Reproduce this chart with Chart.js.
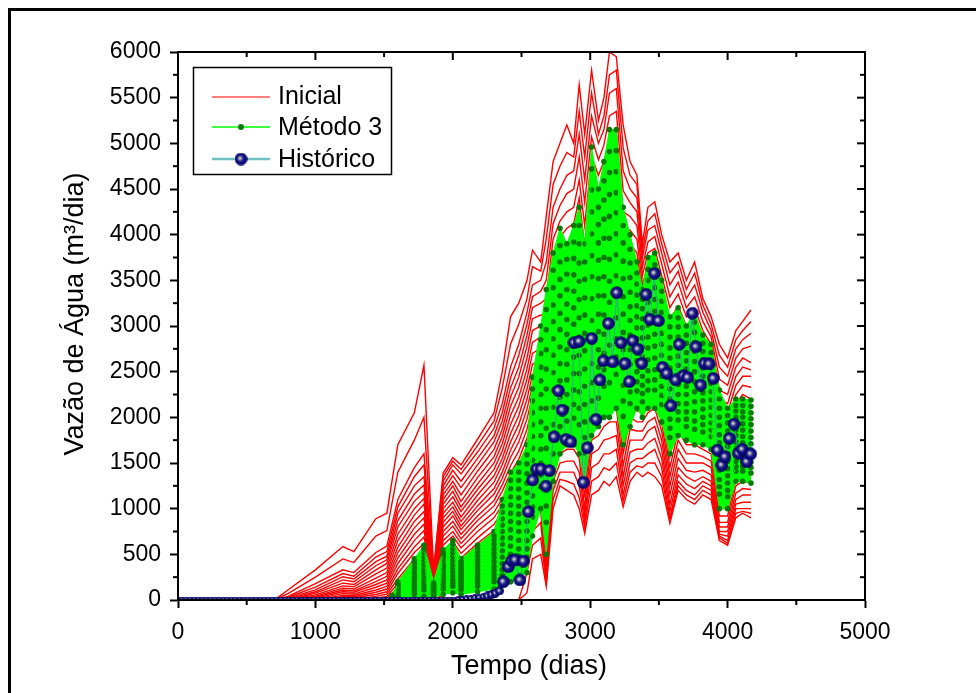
<!DOCTYPE html>
<html>
<head>
<meta charset="utf-8">
<title>Vazão de Água</title>
<script src="https://cdn.jsdelivr.net/npm/chart.js@4.4.1/dist/chart.umd.min.js"></script>
<style>
  html, body { margin: 0; padding: 0; background: #fff; overflow: hidden; }
  #grafico { display: block; }
</style>
</head>
<body>
<canvas id="grafico" width="976" height="693"></canvas>
<script>
// tempos (dias) das simulações
const tempoSim = [0, 700, 800, 1000, 1200, 1280, 1440, 1520, 1600, 1720,
  1790, 1860, 1930, 2000, 2060, 2180, 2300, 2360, 2420, 2480,
  2540, 2580, 2640, 2680, 2730, 2780, 2830, 2880, 2920, 2960,
  3010, 3060, 3100, 3140, 3190, 3240, 3290, 3340, 3380, 3420,
  3470, 3520, 3580, 3640, 3700, 3760, 3820, 3880, 3940, 4000,
  4060, 4110, 4170];

// curvas "Inicial" (m3/dia)
const inicial = [
  [0,0,110,330,585,530,890,950,1700,2050, 2570,330,1390,1560,1480,1760,2050,2500,3100,3250, 3500,3830,3700,4200,4800,5000,5200,5000,5640,5100, 5800,5250,5500,6000,5950,5200,4800,4650,3900,4300, 4360,4000,3700,3800,3500,3700,3300,3100,2800,2650, 2950,3050,3175],
  [0,0,70,250,450,410,700,760,1400,1750, 2000,300,1350,1520,1430,1690,1960,2320,2800,3020, 3300,3650,3600,3950,4550,4750,4900,4850,5350,4850, 5550,5100,5300,5750,5800,4950,4650,4550,3820,4150, 4230,3900,3580,3700,3400,3580,3230,3020,2680,2550, 2850,2950,3050],
  [0,0,40,180,330,300,520,590,1100,1450, 1600,280,1300,1480,1380,1620,1880,2150,2550,2800, 3150,3450,3500,3700,4300,4500,4650,4700,5100,4600, 5300,5000,5150,5550,5600,4700,4500,4400,3750,4050, 4100,3800,3450,3600,3300,3450,3150,2950,2550,2450, 2750,2850,2920],
  [0,0,30,140,290,260,470,530,1020,1350, 1480,265,1250,1420,1300,1550,1800,2050,2430,2680, 3020,3320,3380,3500,4120,4320,4450,4500,4850,4350, 5070,4820,4980,5300,5350,4480,4350,4250,3650,3920, 3980,3680,3320,3480,3200,3320,3050,2880,2420,2350, 2650,2750,2780],
  [0,0,20,110,255,230,420,480,950,1250, 1350,250,1200,1360,1230,1480,1730,1960,2320,2550, 2900,3200,3250,3300,3950,4150,4250,4300,4600,4100, 4850,4650,4800,5050,5100,4250,4200,4100,3550,3800, 3850,3550,3200,3350,3100,3200,2950,2800,2300,2250, 2550,2650,2600],
  [0,0,10,90,220,200,375,440,870,1160, 1260,240,1150,1300,1150,1410,1650,1870,2220,2440, 2780,3080,3120,3100,3770,3970,4070,4120,4400,3870, 4620,4470,4620,4820,4870,4050,4050,3950,3450,3670, 3720,3420,3070,3220,3000,3070,2850,2700,2200,2150, 2450,2550,2520],
  [0,0,0,75,185,170,330,400,800,1080, 1180,230,1100,1250,1080,1340,1570,1790,2120,2330, 2650,2950,3000,2900,3600,3800,3900,3950,4200,3650, 4400,4300,4450,4600,4650,3850,3900,3800,3350,3550, 3600,3300,2950,3100,2900,2950,2750,2600,2100,2050, 2350,2450,2450],
  [0,0,0,55,155,145,285,350,720,1000, 1110,220,1050,1190,1020,1270,1500,1710,2020,2220, 2530,2820,2880,2700,3420,3620,3720,3770,4000,3450, 4200,4120,4270,4400,4450,3650,3750,3650,3250,3420, 3470,3170,2820,2970,2800,2820,2650,2500,2000,1950, 2250,2350,2330],
  [0,0,0,40,130,120,240,300,650,930, 1050,210,1000,1130,970,1210,1430,1630,1920,2120, 2420,2700,2760,2500,3250,3450,3550,3600,3800,3250, 4000,3950,4100,4200,4250,3450,3600,3500,3150,3300, 3350,3050,2700,2850,2700,2700,2550,2400,1900,1850, 2150,2250,2200],
  [0,0,0,30,110,100,200,260,580,860, 970,200,950,1070,910,1150,1360,1550,1820,2020, 2310,2580,2640,2300,3100,3300,3400,3450,3620,3050, 3820,3770,3920,4020,4050,3270,3450,3350,3050,3170, 3220,2950,2570,2750,2600,2600,2450,2320,1800,1750, 2070,2170,2150],
  [0,0,0,20,90,85,170,220,520,790, 900,190,900,1020,860,1090,1290,1480,1730,1920, 2200,2470,2520,2100,2950,3150,3250,3300,3450,2850, 3650,3600,3750,3850,3850,3100,3300,3200,2950,3050, 3100,2850,2450,2650,2500,2500,2350,2250,1700,1650, 2000,2100,2110],
  [0,0,0,10,70,65,140,185,460,720, 830,180,850,970,810,1030,1220,1400,1640,1820, 2090,2350,2400,1900,2800,3000,3100,3150,3270,2670, 3470,3450,3570,3670,3670,2920,3150,3070,2850,2950, 3000,2750,2320,2550,2400,2400,2250,2150,1600,1550, 1920,2020,2020],
  [0,0,0,0,50,50,110,150,400,650, 760,170,800,920,770,980,1160,1330,1560,1730, 1980,2240,2290,1700,2650,2850,2950,3000,3100,2500, 3300,3300,3400,3500,3500,2750,3000,2950,2750,2850, 2900,2650,2200,2450,2300,2300,2150,2050,1500,1450, 1850,1950,1940],
  [0,0,0,0,35,35,85,120,340,580, 690,160,750,860,720,920,1090,1260,1470,1630, 1870,2120,2170,1520,2500,2700,2800,2850,2920,2320, 3120,3150,3250,3320,3320,2600,2870,2820,2650,2750, 2800,2550,2070,2350,2200,2200,2050,1970,1400,1370, 1770,1870,1860],
  [0,0,0,0,25,25,60,90,290,520, 620,150,700,810,670,870,1030,1190,1390,1540, 1770,2010,2060,1350,2350,2550,2650,2700,2750,2150, 2950,3000,3100,3150,3150,2450,2750,2700,2550,2650, 2700,2450,1950,2250,2100,2100,1950,1900,1300,1300, 1700,1800,1790],
  [0,0,0,0,10,10,40,65,230,450, 550,140,650,750,620,810,960,1110,1300,1440, 1660,1900,1940,1170,2220,2420,2520,2550,2600,2000, 2800,2850,2950,3000,3000,2300,2620,2570,2450,2550, 2600,2350,1820,2150,2000,2000,1870,1820,1220,1220, 1620,1700,1640],
  [0,0,0,0,0,0,20,40,180,380, 480,130,600,700,570,750,900,1040,1210,1350, 1560,1790,1830,1000,2100,2300,2400,2400,2450,1850, 2650,2700,2800,2850,2850,2150,2500,2450,2350,2450, 2500,2250,1700,2050,1900,1900,1800,1750,1150,1150, 1550,1600,1500],
  [0,0,0,0,0,0,10,25,130,310, 410,120,540,640,510,680,830,960,1120,1250, 1450,1670,1710,870,1970,2170,2270,2270,2300,1700, 2500,2550,2650,2700,2700,2000,2370,2320,2250,2350, 2400,2150,1570,1950,1800,1800,1720,1670,1070,1070, 1470,1520,1450],
  [0,0,0,0,0,0,0,15,90,240, 340,110,480,580,460,620,760,880,1030,1150, 1340,1560,1600,750,1850,2050,2150,2150,2150,1550, 2350,2400,2500,2550,2550,1850,2250,2200,2150,2250, 2300,2050,1450,1850,1700,1700,1650,1600,1000,1000, 1400,1450,1400],
  [0,0,0,0,0,0,0,5,60,180, 270,100,420,510,400,550,680,790,930,1040, 1220,1440,1470,620,1720,1920,2020,2020,2000,1400, 2200,2250,2350,2400,2400,1720,2120,2070,2050,2150, 2200,1950,1350,1750,1600,1600,1570,1520,920,920, 1320,1370,1340],
  [0,0,0,0,0,0,0,0,30,120, 200,90,360,450,350,490,610,710,830,930, 1100,1320,1350,500,1600,1800,1900,1900,1850,1250, 2050,2100,2200,2250,2250,1600,2000,1950,1950,2050, 2100,1850,1250,1650,1500,1500,1500,1450,850,850, 1250,1300,1280],
  [0,0,0,0,0,0,0,0,15,80, 140,75,300,380,290,420,530,620,720,810, 970,1190,1220,400,1500,1700,1770,1770,1700,1120, 1900,1950,2050,2100,2100,1470,1870,1850,1850,1950, 2000,1750,1150,1550,1420,1400,1420,1370,800,800, 1170,1220,1210],
  [0,0,0,0,0,0,0,0,0,40, 80,60,230,310,240,350,450,530,620,700, 850,1060,1100,300,1400,1600,1650,1650,1550,1000, 1750,1800,1900,1950,1950,1350,1750,1750,1750,1850, 1900,1650,1050,1450,1350,1300,1350,1300,750,750, 1100,1150,1150],
  [0,0,0,0,0,0,0,0,0,20, 40,30,150,210,170,260,350,420,490,560, 680,900,970,250,1300,1500,1520,1520,1400,920, 1600,1650,1750,1770,1800,1250,1620,1650,1650,1720, 1770,1550,970,1370,1270,1220,1300,1250,720,700, 1050,1070,1070],
  [0,0,0,0,0,0,0,0,0,0, 0,0,60,120,100,180,260,310,370,420, 520,750,850,200,1200,1400,1400,1400,1250,850, 1450,1500,1600,1600,1650,1150,1500,1550,1550,1600, 1650,1450,900,1300,1200,1150,1250,1200,700,650, 1000,1000,1000],
  [0,0,0,0,0,0,0,0,0,0, 0,0,0,0,0,0,0,0,0,0, 300,600,680,170,1100,1320,1300,1270,1120,790, 1300,1350,1450,1420,1500,1080,1400,1470,1450,1500, 1500,1350,870,1250,1150,1100,1200,1150,680,620, 950,970,950],
  [0,0,0,0,0,0,0,0,0,0, 0,0,0,0,0,0,0,0,0,0, 80,450,500,150,1000,1250,1200,1150,1000,730, 1150,1200,1300,1250,1350,1020,1300,1400,1350,1400, 1350,1250,840,1200,1100,1050,1150,1100,650,600, 900,950,900]
];

// tempos das curvas do Método 3
const tempoMetodo = [0, 1500, 1560, 1600, 1720, 1790, 1860, 1930, 2000, 2060,
  2180, 2300, 2360, 2420, 2480, 2540, 2580, 2640, 2680, 2730,
  2780, 2830, 2880, 2920, 2960, 3010, 3060, 3100, 3140, 3190,
  3240, 3290, 3340, 3380, 3420, 3470, 3520, 3580, 3640, 3700,
  3760, 3820, 3880, 3940, 4000, 4060, 4110, 4170];

// curvas "Método 3" (da maior para a menor)
const metodo3 = [
  [0,0,50,200,450,600,200,550,650,450, 600,750,1100,1400,1500,1700,2440,3000,3400,3800, 4070,3900,4100,4300,3900,4960,4500,4800,5150,5150, 4300,4000,3700,3400,3750,3800,3500,3100,3200,3000, 3150,2900,2800,2300,2100,2200,2200,2190],
  [0,0,45,185,420,560,185,515,610,420, 560,700,1030,1310,1400,1590,2310,2850,3180,3610, 3880,3730,3920,4100,3700,4720,4300,4590,4910,4920, 4100,3840,3580,3290,3620,3670,3380,2990,3090,2900, 3040,2810,2710,2200,2020,2130,2130,2120],
  [0,0,40,170,390,520,170,480,560,390, 520,660,960,1220,1310,1490,2180,2700,2960,3420, 3700,3570,3740,3900,3510,4490,4110,4380,4680,4690, 3910,3690,3460,3190,3500,3550,3270,2880,2990,2810, 2930,2720,2630,2100,1940,2070,2060,2050],
  [0,0,38,155,355,475,160,440,520,360, 485,610,890,1130,1215,1385,2050,2550,2740,3230, 3510,3400,3560,3690,3310,4250,3910,4170,4440,4460, 3710,3530,3340,3080,3380,3420,3150,2760,2880,2710, 2820,2630,2540,2000,1850,2000,2000,1985],
  [0,0,35,140,320,430,150,400,480,330, 450,560,820,1040,1120,1280,1920,2400,2530,3050, 3330,3240,3380,3490,3120,4010,3720,3960,4200,4240, 3520,3370,3220,2980,3260,3290,3040,2650,2780,2620, 2720,2540,2460,1910,1770,1930,1930,1920],
  [0,0,31,125,290,390,135,365,435,300, 410,515,750,950,1030,1175,1790,2250,2310,2860, 3140,3070,3200,3290,2920,3770,3520,3750,3960,4010, 3320,3210,3100,2870,3130,3160,2920,2540,2670,2530, 2610,2450,2370,1810,1680,1860,1860,1850],
  [0,0,27,110,260,350,120,330,390,270, 370,470,680,860,940,1070,1660,2100,2100,2680, 2960,2910,3020,3090,2730,3540,3330,3540,3730,3780, 3130,3060,2980,2770,3010,3040,2800,2430,2570,2440, 2500,2360,2280,1720,1600,1800,1790,1780],
  [0,0,23,95,225,305,110,295,350,245, 330,420,610,770,845,965,1530,1950,1880,2490, 2770,2740,2840,2880,2530,3300,3130,3330,3490,3550, 2930,2900,2860,2660,2880,2910,2680,2310,2460,2340, 2390,2270,2190,1620,1520,1730,1720,1710],
  [0,0,20,80,190,260,100,260,310,220, 290,370,540,680,750,860,1400,1800,1660,2300, 2590,2580,2660,2680,2340,3060,2940,3120,3260,3320, 2740,2740,2740,2560,2760,2780,2570,2200,2360,2250, 2280,2180,2110,1520,1440,1660,1660,1640],
  [0,0,16,65,160,220,85,220,265,190, 255,325,470,590,655,755,1270,1650,1440,2110, 2400,2410,2480,2480,2140,2820,2740,2910,3020,3090, 2540,2580,2620,2450,2630,2650,2450,2090,2250,2150, 2170,2090,2020,1420,1360,1590,1590,1570],
  [0,0,12,50,130,180,70,180,220,160, 220,280,400,500,560,650,1140,1500,1220,1920, 2220,2250,2300,2280,1950,2590,2550,2700,2790,2860, 2350,2420,2500,2350,2510,2520,2340,1980,2150,2060, 2060,2000,1940,1320,1280,1520,1520,1510],
  [0,0,9,37,100,145,60,150,185,135, 185,240,335,420,480,560,1020,1370,1030,1760, 2060,2100,2140,2100,1780,2380,2380,2520,2580,2660, 2180,2280,2390,2260,2400,2410,2240,1880,2060,1980, 1960,1920,1860,1240,1200,1460,1460,1450],
  [0,0,6,24,70,110,50,120,150,110, 150,200,270,340,400,470,910,1240,850,1600, 1900,1960,1990,1920,1610,2180,2210,2340,2380,2470, 2010,2150,2290,2170,2300,2300,2140,1780,1970,1900, 1870,1840,1790,1160,1130,1410,1410,1390],
  [0,0,0,0,20,40,30,60,80,60, 90,120,160,200,250,300,700,1000,500,1300, 1600,1700,1700,1600,1300,1800,1900,2000,2000,2100, 1700,1900,2100,2000,2100,2100,1950,1600,1800,1750, 1700,1700,1650,1000,1000,1300,1300,1280]
];

// histórico observado
const histTempo = [0,30,60,90,120,150,180,210,240,270, 300,330,360,390,420,450,480,510,540,570,
  600,630,660,690,720,750,780,810,840,870, 900,930,960,990,1020,1050,1080,1110,1140,1170,
  1200,1230,1260,1290,1320,1350,1380,1410,1440,1470, 1500,1530,1560,1590,1620,1650,1680,1710,1740,1770,
  1800,1830,1860,1890,1920,1950,1980,2010,
  2040,2070,2100,2130,2160,2190,2222,2252,2282,2310, 2339,2368,2404,2430,2453,2489,2514,2550,2581,2610,
  2642,2678,2703,2737,2768,2797,2824,2858,2882,2919, 2950,2979,3011,3042,3071,3096,3132,3164,3193,3224,
  3253,3285,3309,3346,3375,3406,3435,3467,3496,3527, 3557,3588,3622,3648,3678,3709,3743,3770,3804,3831,
  3865,3896,3926,3957,3981,4012,4047,4078,4107,4139, 4168];
const histVazao = [0,0,0,0,0,0,0,0,0,0, 0,0,0,0,0,0,0,0,0,0,
  0,0,0,0,0,0,0,0,0,0, 0,0,0,0,0,0,0,0,0,0,
  0,0,0,0,0,0,0,0,0,0, 0,0,0,0,0,0,0,0,0,0,
  0,0,0,0,0,0,0,0,
  5,8,12,18,24,30,36,45,60,75, 99,200,365,430,438,219,427,967,1314,1434,
  1434,1248,1416,1788,2292,2080,1759,1733,2817,2832, 1288,1668,2865,1978,2409,2620,3029,2609,3365,2817,
  2591,2391,2839,2748,2591,3347,3073,3577,3058,2548, 2482,2128,2409,2800,2456,2438,3139,2773,2354,2591,
  2584,2427,1642,1478,1569,1770,1927,1606,1650,1514, 1599];

const FONTE = "'Liberation Sans', Arial, sans-serif";
Chart.defaults.font.family = FONTE;
Chart.defaults.color = '#000';

// bolinha azul com brilho (marcador do histórico)
function esfera(d, borda) {
  const c = document.createElement('canvas');
  c.width = d; c.height = d;
  const g = c.getContext('2d');
  const r = d / 2;
  const grad = g.createRadialGradient(r * 0.8, r * 0.85, 0, r, r, r);
  grad.addColorStop(0, '#f2eecb');
  grad.addColorStop(0.2, '#a4a4b8');
  grad.addColorStop(0.45, '#22228a');
  grad.addColorStop(0.85, '#000074');
  grad.addColorStop(1, '#00004a');
  g.fillStyle = grad;
  g.beginPath();
  g.arc(r, r, r - 0.2, 0, Math.PI * 2);
  g.fill();
  if (borda) {
    g.strokeStyle = '#10106e';
    g.lineWidth = 1;
    g.beginPath();
    g.arc(r, r, r - 0.6, 0, Math.PI * 2);
    g.stroke();
  }
  return c;
}
const bolaGrande = esfera(13, false);
const bolaMedia = esfera(9, true);
const bolaPequena = esfera(7, true);

function pares(xs, ys) {
  return xs.map((t, i) => ({ x: t, y: ys[i] }));
}

const datasets = [];
datasets.push({
  label: 'Histórico',
  data: pares(histTempo, histVazao),
  borderColor: '#3f9d9d',
  borderWidth: 1,
  pointStyle: ctx => {
    const v = ctx.raw ? ctx.raw.y : 0;
    if (v < 40) return bolaPequena;
    if (v < 150) return bolaMedia;
    return bolaGrande;
  },
  pointRadius: 6,
  order: 0
});
const idxFundo = metodo3.length; // última curva do Método 3
metodo3.forEach((ys, k) => {
  datasets.push({
    label: k === 0 ? 'Método 3' : '',
    data: pares(tempoMetodo, ys),
    borderColor: '#00ff00',
    borderWidth: 1,
    backgroundColor: '#00ff00',
    fill: k === 0 ? idxFundo : false,
    pointRadius: 2.8,
    pointBorderWidth: 0,
    pointBackgroundColor: '#067a06',
    order: k === 0 ? 2 : 1
  });
});
inicial.forEach((ys, k) => {
  datasets.push({
    label: k === 0 ? 'Inicial' : '',
    data: pares(tempoSim, ys),
    borderColor: '#ff0000',
    borderWidth: 1.4,
    pointRadius: 0,
    fill: false,
    order: 3
  });
});

function traco(c, x1, y1, x2, y2) {
  c.beginPath();
  c.moveTo(x1, y1);
  c.lineTo(x2, y2);
  c.stroke();
}

const moldura = {
  id: 'moldura',
  beforeDraw(chart) {
    const c = chart.ctx;
    c.save();
    c.fillStyle = '#fff';
    c.fillRect(0, 0, chart.width, chart.height);
    c.strokeStyle = '#000';
    c.lineWidth = 3;
    c.beginPath();
    c.moveTo(9.5, chart.height + 10);
    c.lineTo(9.5, 9.5);
    c.lineTo(chart.width + 10, 9.5);
    c.stroke();
    c.restore();
  },
  afterDraw(chart) {
    const c = chart.ctx;
    const a = chart.chartArea;
    const x = chart.scales.x, y = chart.scales.y;
    c.save();
    c.strokeStyle = '#000';
    c.lineWidth = 2;
    c.strokeRect(a.left, a.top, a.right - a.left, a.bottom - a.top);

    // ticks menores e ticks do topo / direita
    for (let v = 0; v <= 5000; v += 500) {
      const px = x.getPixelForValue(v);
      const maior = v % 1000 === 0;
      const len = maior ? 8 : 5;
      traco(c, px, a.top, px, a.top + len);
      if (!maior) traco(c, px, a.bottom, px, a.bottom + len);
    }
    for (let v = 0; v <= 6000; v += 250) {
      const py = y.getPixelForValue(v);
      const maior = v % 500 === 0;
      const len = maior ? 8 : 5;
      traco(c, a.right, py, a.right - len, py);
      if (!maior) traco(c, a.left, py, a.left - len, py);
    }

    // títulos dos eixos
    c.fillStyle = '#000';
    c.font = '27px ' + FONTE;
    c.textAlign = 'center';
    c.textBaseline = 'middle';
    c.fillText('Tempo (dias)', 529, 667);
    c.save();
    c.translate(76, 314);
    c.rotate(-Math.PI / 2);
    c.fillText('Vazão de Água (m³/dia)', 0, 0);
    c.restore();

    // legenda
    c.fillStyle = '#fff';
    c.fillRect(193, 67, 199, 108);
    c.lineWidth = 1.5;
    c.strokeStyle = '#000';
    c.strokeRect(193.5, 67.5, 198, 107);

    c.lineWidth = 1.2;
    c.strokeStyle = '#ff0000';
    traco(c, 212, 97, 270, 97);

    c.lineWidth = 1.5;
    c.strokeStyle = '#00ff00';
    traco(c, 212, 127, 270, 127);
    c.fillStyle = '#067a06';
    c.beginPath();
    c.arc(241, 127, 3, 0, Math.PI * 2);
    c.fill();

    c.lineWidth = 2.5;
    c.strokeStyle = '#6fc0c0';
    traco(c, 212, 159, 270, 159);
    c.drawImage(bolaGrande, 241 - 6.5, 159 - 6.5);

    c.fillStyle = '#000';
    c.font = '25px ' + FONTE;
    c.textAlign = 'left';
    c.fillText('Inicial', 278, 97);
    c.fillText('Método 3', 278, 128);
    c.fillText('Histórico', 278, 160);
    c.restore();
  }
};

const rotulo = v => String(v);

new Chart(document.getElementById('grafico'), {
  type: 'line',
  data: { datasets: datasets },
  options: {
    responsive: false,
    devicePixelRatio: 1,
    animation: false,
    events: [],
    layout: { padding: { left: 0, top: 52, right: 111, bottom: 0 } },
    elements: { line: { tension: 0 } },
    plugins: {
      legend: { display: false },
      tooltip: { enabled: false },
      filler: { propagate: false }
    },
    scales: {
      x: {
        type: 'linear',
        min: 0,
        max: 5000,
        ticks: { stepSize: 1000, font: { size: 23 }, color: '#000', padding: 11, callback: rotulo },
        grid: { drawOnChartArea: false, drawTicks: true, tickLength: 8, tickWidth: 2, tickColor: '#000' },
        border: { display: true, color: '#000', width: 2 },
        afterFit: s => { s.height = 93; }
      },
      y: {
        type: 'linear',
        min: 0,
        max: 6000,
        ticks: { stepSize: 500, font: { size: 23 }, color: '#000', padding: 9, callback: rotulo },
        grid: { drawOnChartArea: false, drawTicks: true, tickLength: 8, tickWidth: 2, tickColor: '#000' },
        border: { display: true, color: '#000', width: 2 },
        afterFit: s => { s.width = 178; }
      }
    }
  },
  plugins: [moldura]
});
</script>
</body>
</html>
